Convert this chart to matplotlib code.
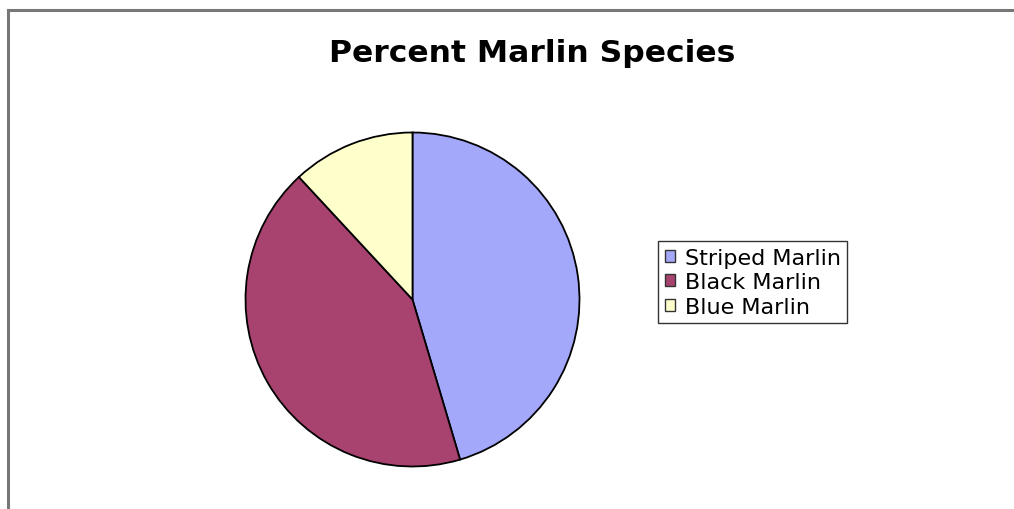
import matplotlib
matplotlib.use("Agg")
import matplotlib.pyplot as plt
from matplotlib.patches import Patch
from matplotlib.lines import Line2D

categories = ["Striped Marlin", "Black Marlin", "Blue Marlin"]
percent = [45.4, 42.7, 11.9]
colors = ["#A3A8FB", "#A8426F", "#FFFFCC"]
title = "Percent Marlin Species"

W, H = 1014, 510
fig = plt.figure(figsize=(W / 100, H / 100), dpi=100)
fig.patch.set_facecolor("white")

# pie axes: centre (412.5, 300) px, radius 168 px
cx, cy, r = 412.5, 300.5, 167
ax = fig.add_axes([(cx - r) / W, (H - cy - r) / H, 2 * r / W, 2 * r / H])
ax.pie(percent, colors=colors, startangle=90, counterclock=False,
       wedgeprops=dict(edgecolor="black", linewidth=1.3))
ax.set_xlim(-1.0, 1.0)
ax.set_ylim(-1.0, 1.0)
ax.set_aspect("equal")
ax.axis("off")

fig.text(532.5 / W, 1 - 53 / H, title, ha="center", va="center",
         fontsize=22.6, fontweight="bold", family="DejaVu Sans")

handles = [Patch(facecolor=c, edgecolor="#333333", linewidth=1.0) for c in colors]
leg = fig.legend(handles, categories, loc="upper left",
                 bbox_to_anchor=(658 / W, 1 - 242 / H), borderaxespad=0,
                 prop=dict(family="DejaVu Sans", size=16),
                 frameon=True, fancybox=False, shadow=False,
                 handlelength=0.45, handleheight=0.45, handletextpad=0.45,
                 labelspacing=0.2, borderpad=0.3)
leg.get_frame().set_edgecolor("black")
leg.get_frame().set_linewidth(1.0)

# outer frame (gray) at left and top
x0 = 8 / W
y0 = 1 - 11 / H
fig.add_artist(Line2D([x0, x0], [0, y0], color="#777777", linewidth=2.2,
                      transform=fig.transFigure))
fig.add_artist(Line2D([x0, 1], [y0, y0], color="#777777", linewidth=2.2,
                      transform=fig.transFigure))

fig.savefig("out.png", dpi=100)
